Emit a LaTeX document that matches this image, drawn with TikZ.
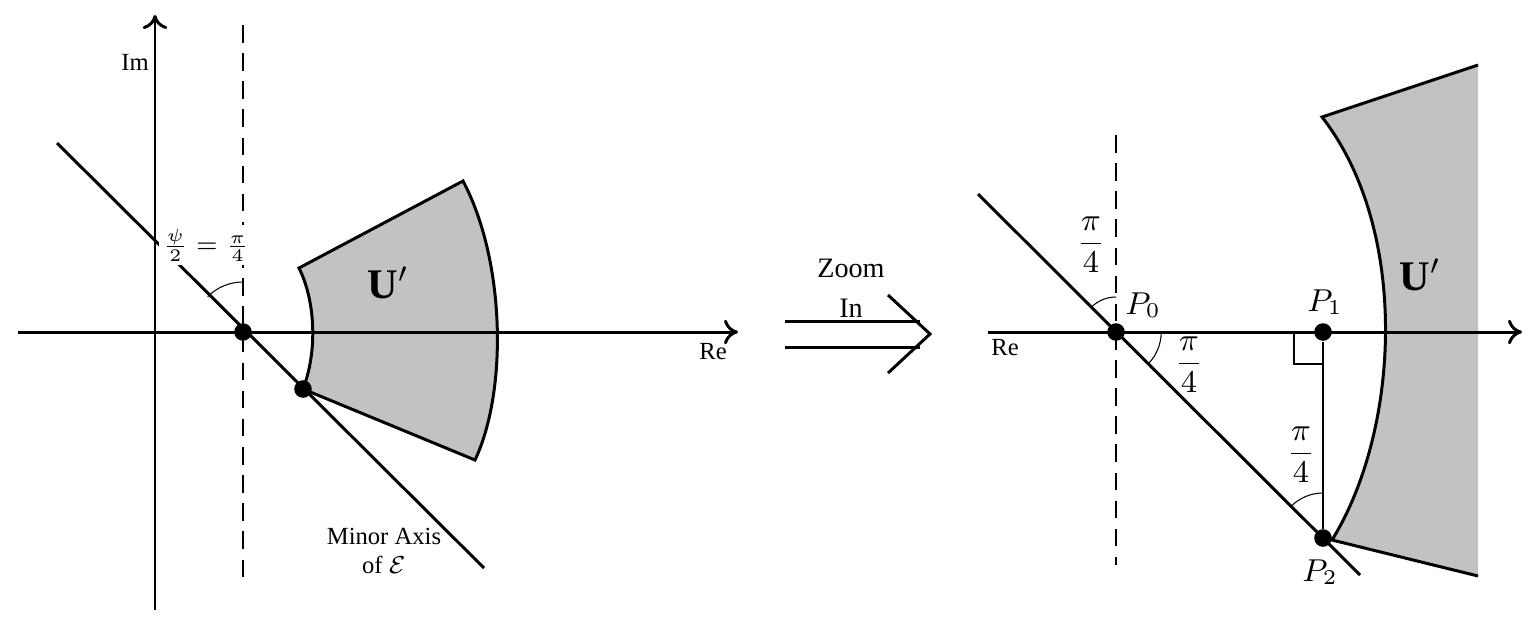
\documentclass[tikz,border=0pt]{standalone}
\usepackage{fontspec}
\setmainfont{Liberation Serif}
\usetikzlibrary{calc,arrows.meta}
\begin{document}
\begin{tikzpicture}[x={(0.01cm,0)},y={(0,-0.01cm)},
  ax/.style={line width=0.85pt,-{To[length=4pt,width=7pt,line width=0.85pt]}},
  thick2/.style={line width=0.85pt},
  dsh/.style={dash pattern=on 5pt off 3pt,line width=0.3pt},
  dot/.style={circle,fill=black,inner sep=0pt,minimum size=5pt},
  reg/.style={fill=black!24,draw=black,line width=0.85pt},
  lab/.style={font=\fontsize{7}{8.5}\selectfont},
  plab/.style={font=\fontsize{9}{11}\selectfont},
  ulab/.style={font=\fontsize{12}{14}\selectfont}]
\useasboundingbox (0,0) rectangle (1531,636);
% left panel
\coordinate (ImB) at (155,610); \coordinate (ImT) at (155,15);
\coordinate (ReL) at (18,332); \coordinate (ReR) at (738,332);
\draw[reg] (299,268) -- (463,181) .. controls (505,260) and (508,390) .. (475,460) -- (303,389) .. controls (318,350) and (315,300) .. (299,268) -- cycle;
\draw[ax] (ImB) -- (ImT);
\draw[ax] (ReL) -- (ReR);
\draw[dsh] (243,25) -- (243,585);
\coordinate (DA) at (57,143); \coordinate (DB) at (484,568);
\draw[thick2] (DA) -- (DB);
\node[dot] (O1) at (243,332) {};
\node[dot] (Q1) at (303,389) {};
\draw[line width=0.3pt] ($(243,332)+(0,-50)$) arc[start angle=90,end angle=135,radius=0.5cm];
\node[lab,fill=white,inner sep=1pt] (lpsi) at (206,245) {$\frac{\psi}{2}=\frac{\pi}{4}$};
\node[ulab] (lU1) at (388,283) {$\mathbf{U}'$};
\node[lab,align=center,inner sep=0pt] (lminor) at (384,551) {Minor Axis\\of $\mathcal{E}$};
\node[lab] (lRe1) at (713,352) {Re};
\node[lab] (lIm) at (135,62) {Im};
% middle arrow
\coordinate (A1) at (785,321); \coordinate (A2) at (920,321);
\coordinate (B1) at (785,347); \coordinate (B2) at (920,347);
\draw[thick2] (A1) -- (A2); \draw[thick2] (B1) -- (B2);
\coordinate (H1) at (888,295); \coordinate (H2) at (930,334); \coordinate (H3) at (888,373);
\draw[thick2] (H1) -- (H2) -- (H3);
\node[align=center,inner sep=0pt,font=\fontsize{8}{11.5}\selectfont] (lzoom) at (851,288) {Zoom\\In};
% right panel
\fill[black!24] (1322,117) -- (1478,65) -- (1478,576) -- (1332,540) .. controls (1400,430) and (1410,230) .. (1322,117) -- cycle;
\draw[line width=0.85pt] (1478,65) -- (1322,117) .. controls (1410,230) and (1400,430) .. (1332,540) -- (1478,576);
\draw[ax] (988,332) -- (1522,332);
\draw[dsh] (1116,135) -- (1116,565);
\coordinate (DC) at (978,194); \coordinate (DD) at (1360,575);
\draw[thick2] (DC) -- (DD);
\node[dot] (P0) at (1116,332) {};
\node[dot] (P1) at (1323,332) {};
\node[dot] (P2) at (1323,538) {};
\draw[line width=0.3pt] (P1) -- (P2);
\draw[line width=0.3pt] (1323,364) -- (1294,364) -- (1294,332);
\draw[line width=0.3pt] ($(1116,332)+(0,-35)$) arc[start angle=90,end angle=135,radius=0.35cm];
\draw[line width=0.3pt] ($(1116,332)+(32,32)$) arc[start angle=-45,end angle=0,radius=0.45cm];
\draw[line width=0.3pt] ($(1323,538)+(0,-45)$) arc[start angle=90,end angle=135,radius=0.45cm];
\node[plab] (lp1) at (1091,245) {$\displaystyle\frac{\pi}{4}$};
\node[plab] (lp2) at (1189,365) {$\displaystyle\frac{\pi}{4}$};
\node[plab] (lp3) at (1301,455) {$\displaystyle\frac{\pi}{4}$};
\node[plab] (lP0) at (1143,305) {$P_0$};
\node[plab] (lP1) at (1325,302) {$P_1$};
\node[plab] (lP2) at (1320,572) {$P_2$};
\node[ulab] (lU2) at (1420,275) {$\mathbf{U}'$};
\node[lab] (lRe2) at (1005,348) {Re};
\end{tikzpicture}
\end{document}
